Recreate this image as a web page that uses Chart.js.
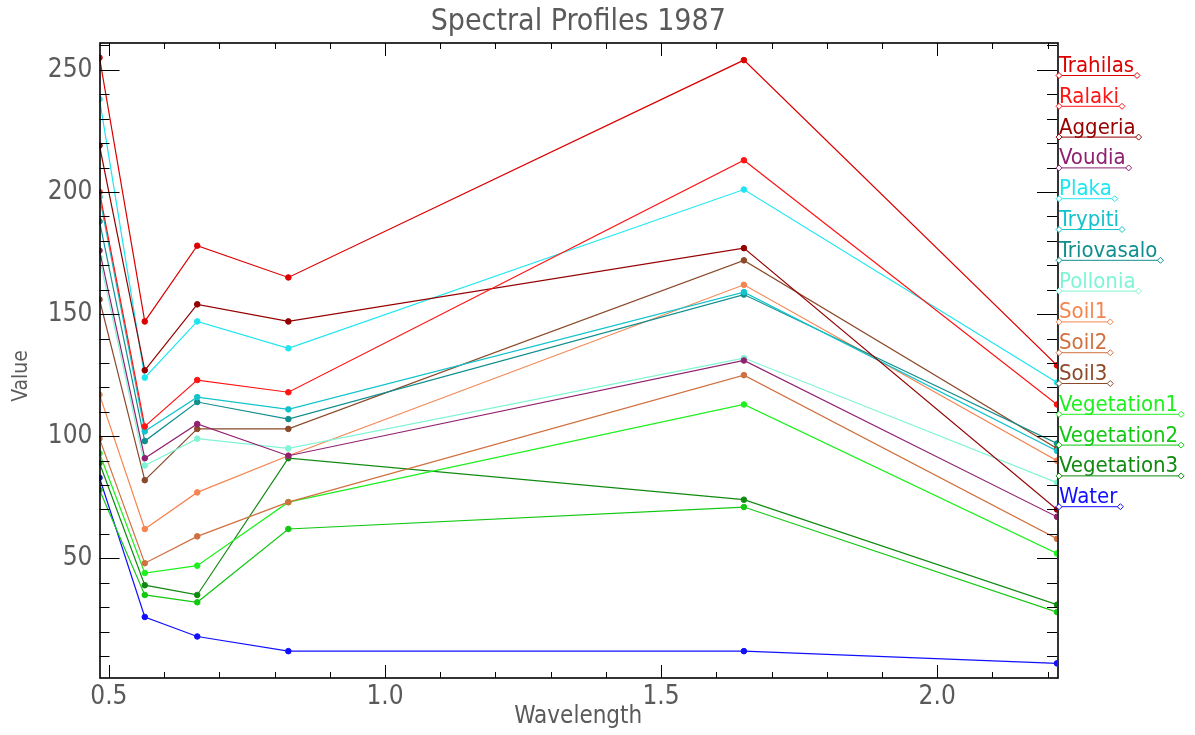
<!DOCTYPE html>
<html>
<head>
<meta charset="utf-8">
<title>Spectral Profiles 1987</title>
<script src="https://cdn.jsdelivr.net/npm/chart.js@4.4.0/dist/chart.umd.min.js"></script>
<style>
  html, body { margin: 0; padding: 0; background: #fff; }
  canvas { display: block; }
</style>
</head>
<body>
<canvas id="spectra" width="1195" height="735"></canvas>
<script>
// band centres (micrometres) and the mean value of each ROI per band
const wavelengths = [0.483, 0.565, 0.66, 0.825, 1.65, 2.217]

const trahilas    = [255, 147, 178, 165, 254, 129]
const ralaki      = [200, 104, 123, 118, 213, 113]
const aggeria     = [219, 127, 154, 147, 177, 70]
const voudia      = [176, 91, 105, 92, 131, 67]
const plaka       = [238, 124, 147, 136, 201, 122]
const trypiti     = [198, 102, 116, 111, 159, 94]
const triovasalo  = [188, 98, 114, 107, 158, 97]
const pollonia    = [173, 88, 99, 95, 132, 81]
const soil1       = [117, 62, 77, 92, 162, 90]
const soil2       = [99, 48, 59, 73, 125, 58]
const soil3       = [156, 82, 103, 103, 172, 95]
const vegetation1 = [93, 44, 47, 73, 113, 52]
const vegetation2 = [78, 35, 32, 62, 71, 28]
const vegetation3 = [89, 39, 35, 91, 74, 31]
const water       = [83, 26, 18, 12, 12, 7]

const xTickLabels = [0.5, 1.0, 1.5, 2.0]
const yTickLabels = [50, 100, 150, 200, 250]
const yRange = [1, 261]

const chartTitle = 'Spectral Profiles 1987'
const yTitle = 'Value'

const FONT = '"DejaVu Sans Condensed", "Liberation Sans Narrow", "DejaVu Sans", sans-serif'
const TEXT = '#5a5a5a'

const profiles = [
  ['Trahilas', trahilas, '#dc0000'],
  ['Ralaki', ralaki, '#ff1414'],
  ['Aggeria', aggeria, '#950000'],
  ['Voudia', voudia, '#902070'],
  ['Plaka', plaka, '#1ee6f0'],
  ['Trypiti', trypiti, '#12c3cc'],
  ['Triovasalo', triovasalo, '#118e8e'],
  ['Pollonia', pollonia, '#80f5d5'],
  ['Soil1', soil1, '#f58550'],
  ['Soil2', soil2, '#d0703f'],
  ['Soil3', soil3, '#8b4a2a'],
  ['Vegetation1', vegetation1, '#1ef01e'],
  ['Vegetation2', vegetation2, '#12c812'],
  ['Vegetation3', vegetation3, '#118a11'],
  ['Water', water, '#1010ff']
]

const datasets = profiles.map(p => ({
  label: p[0],
  data: p[1].map((v, i) => ({x: wavelengths[i], y: v})),
  borderColor: p[2],
  backgroundColor: p[2],
  borderWidth: 1.2,
  pointStyle: 'circle',
  pointRadius: 2.8,
  pointBorderWidth: 1,
  tension: 0
}))

// box round the plot with inward ticks on all four sides
const frameTicks = {
  id: 'frameTicks',
  afterDatasetsDraw(chart) {
    const {ctx, chartArea: a, scales: {x, y}} = chart
    ctx.save()
    ctx.strokeStyle = '#000'
    ctx.lineWidth = 1
    ctx.beginPath()
    for (let v = 10; v < yRange[1]; v += 10) {
      const py = Math.round(y.getPixelForValue(v)) + 0.5
      const len = v % 50 === 0 ? 20 : 10
      ctx.moveTo(a.left, py); ctx.lineTo(a.left + len, py)
      ctx.moveTo(a.right, py); ctx.lineTo(a.right - len, py)
    }
    for (let k = 5; k <= 22; k++) {
      const px = Math.round(x.getPixelForValue(k / 10)) + 0.5
      const len = k % 5 === 0 ? 13 : 6
      ctx.moveTo(px, a.bottom); ctx.lineTo(px, a.bottom - len)
      ctx.moveTo(px, a.top); ctx.lineTo(px, a.top + len)
    }
    ctx.stroke()
    ctx.lineWidth = 1.6
    ctx.strokeRect(Math.round(a.left), Math.round(a.top), Math.round(a.right - a.left), Math.round(a.bottom - a.top))
    ctx.restore()
  }
}

// title centred over the plot, and the y title a little below the middle
const titles = {
  id: 'titles',
  afterDraw(chart) {
    const {ctx, chartArea: a} = chart
    ctx.save()
    ctx.fillStyle = TEXT
    ctx.textAlign = 'center'
    ctx.textBaseline = 'middle'
    ctx.font = '30px ' + FONT
    ctx.fillText(chartTitle, (a.left + a.right) / 2, 22)
    ctx.translate(22, 376)
    ctx.rotate(-Math.PI / 2)
    ctx.font = '21px ' + FONT
    ctx.fillText(yTitle, 0, 0)
    ctx.restore()
  }
}

function diamond(ctx, cx, cy, r) {
  ctx.moveTo(cx - r, cy); ctx.lineTo(cx, cy - r); ctx.lineTo(cx + r, cy); ctx.lineTo(cx, cy + r); ctx.closePath()
}

// names down the right side, underlined in the ROI colour
const sideLegend = {
  id: 'sideLegend',
  afterDraw(chart) {
    const {ctx, chartArea: a} = chart
    ctx.save()
    ctx.font = '22px ' + FONT
    ctx.textBaseline = 'alphabetic'
    ctx.textAlign = 'left'
    profiles.forEach((p, i) => {
      const x0 = a.right + 2
      const uy = 75 + i * 30.8
      const w = ctx.measureText(p[0]).width
      ctx.fillStyle = p[2]
      ctx.strokeStyle = p[2]
      ctx.fillText(p[0], x0, uy - 3)
      ctx.lineWidth = 1
      ctx.beginPath()
      ctx.moveTo(x0, uy + 0.5); ctx.lineTo(x0 + w + 3, uy + 0.5)
      ctx.stroke()
      ctx.fillStyle = '#fff'
      ctx.beginPath(); diamond(ctx, x0, uy + 0.5, 3); ctx.fill(); ctx.stroke()
      ctx.beginPath(); diamond(ctx, x0 + w + 3, uy + 0.5, 3); ctx.fill(); ctx.stroke()
    })
    ctx.restore()
  }
}

const config = {
  type: 'line',
  data: {datasets: datasets},
  options: {
    responsive: false,
    animation: false,
    layout: {padding: {left: 0, right: 138, top: 43, bottom: 0}},
    plugins: {
      legend: {display: false},
      tooltip: {enabled: false},
      title: {display: false}
    },
    scales: {
      x: {
        type: 'linear',
        min: wavelengths[0],
        max: wavelengths[wavelengths.length - 1],
        afterFit: s => { s.height = 57 },
        afterBuildTicks: s => { s.ticks = xTickLabels.map(v => ({value: v})) },
        grid: {display: false, drawTicks: false},
        border: {display: false},
        ticks: {
          color: TEXT,
          padding: 4,
          autoSkip: false,
          maxRotation: 0,
          font: {family: FONT, size: 26},
          callback: v => v.toFixed(1)
        },
        title: {
          display: true,
          text: 'Wavelength',
          color: TEXT,
          font: {family: FONT, size: 24, lineHeight: 1.2},
          padding: {top: 0, bottom: 4}
        }
      },
      y: {
        min: yRange[0],
        max: yRange[1],
        afterFit: s => { s.width = 99.5 },
        afterBuildTicks: s => { s.ticks = yTickLabels.map(v => ({value: v})) },
        grid: {display: false, drawTicks: false},
        border: {display: false},
        ticks: {
          color: TEXT,
          padding: 7,
          autoSkip: false,
          font: {family: FONT, size: 26}
        },
        title: {display: false}
      }
    }
  },
  plugins: [frameTicks, titles, sideLegend]
}

const spectraChart = new Chart(document.getElementById('spectra'), config)
</script>
</body>
</html>
